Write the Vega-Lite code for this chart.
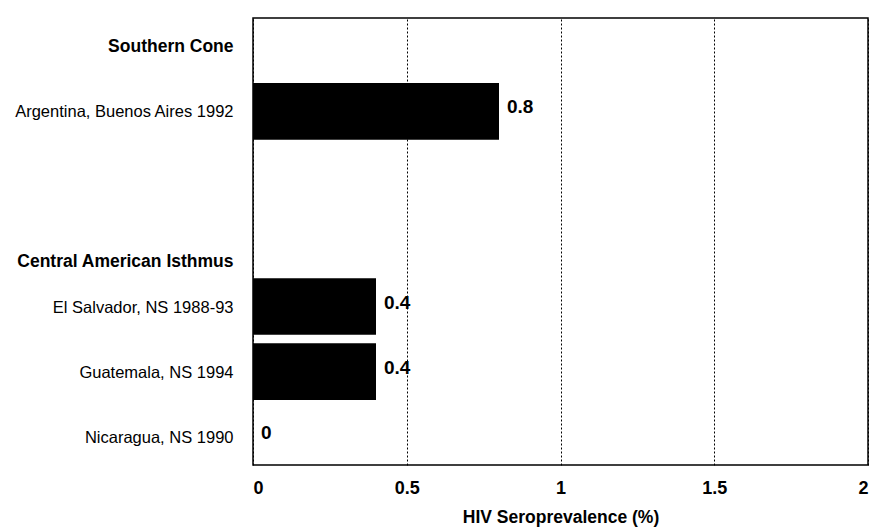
{
  "$schema": "https://vega.github.io/schema/vega-lite/v6.json",
  "width": 615,
  "height": 447,
  "autosize": {"type": "none"},
  "padding": {"left": 253, "top": 18, "right": 8, "bottom": 64},
  "background": "white",
  "config": {
    "font": "Liberation Sans",
    "view": {"stroke": "black", "strokeWidth": 1.5}
  },
  "data": {
    "values": [
      {"label": "Southern Cone", "value": null, "kind": "header"},
      {"label": "Argentina, Buenos Aires 1992", "value": 0.8, "kind": "site"},
      {"label": " ", "value": null, "kind": "blank"},
      {"label": "Central American Isthmus", "value": null, "kind": "header"},
      {"label": "El Salvador, NS 1988-93", "value": 0.4, "kind": "site"},
      {"label": "Guatemala, NS 1994", "value": 0.4, "kind": "site"},
      {"label": "Nicaragua, NS 1990", "value": 0, "kind": "site"}
    ]
  },
  "encoding": {
    "y": {
      "field": "label",
      "type": "nominal",
      "sort": null,
      "scale": {
        "domain": ["Southern Cone", "Argentina, Buenos Aires 1992", " ", "Central American Isthmus", "El Salvador, NS 1988-93", "Guatemala, NS 1994", "Nicaragua, NS 1990"],
        "paddingInner": 0.13,
        "paddingOuter": 0
      },
      "axis": {
        "title": null,
        "domain": false,
        "ticks": false,
        "labelColor": "black",
        "labelFontSize": {"condition": {"test": "datum.value === 'Southern Cone' || datum.value === 'Central American Isthmus'", "value": 17.5}, "value": 16.5},
        "labelPadding": 20,
        "labelLimit": 300,
        "labelFontWeight": {"condition": {"test": "datum.value === 'Southern Cone' || datum.value === 'Central American Isthmus'", "value": "bold"}, "value": "normal"},
        "labelOffset": {"condition": {"test": "datum.value === 'Central American Isthmus'", "value": 20}, "value": 1}
      }
    },
    "x": {
      "field": "value",
      "type": "quantitative",
      "scale": {"domain": [0, 2]},
      "axis": {
        "title": "HIV Seroprevalence (%)",
        "titleFontSize": 17.5,
        "titleFontWeight": "bold",
        "titleColor": "black",
        "titlePadding": 11,
        "values": [0, 0.5, 1, 1.5, 2],
        "format": "~g",
        "labelFontSize": 18,
        "labelFontWeight": "bold",
        "labelColor": "black",
        "labelPadding": 14,
        "ticks": false,
        "domain": false,
        "grid": true,
        "gridColor": "black",
        "gridDash": [2, 2],
        "gridWidth": 1,
        "gridOpacity": 1
      }
    }
  },
  "layer": [
    {
      "mark": {"type": "bar", "color": "black"},
      "transform": [{"filter": "datum.value !== null"}]
    },
    {
      "mark": {"type": "text", "align": "left", "baseline": "middle", "dx": 8, "dy": -4, "fontSize": 19, "fontWeight": "bold", "color": "black"},
      "transform": [{"filter": "datum.value !== null"}],
      "encoding": {"text": {"field": "value", "type": "quantitative", "format": "~g"}}
    }
  ]
}
